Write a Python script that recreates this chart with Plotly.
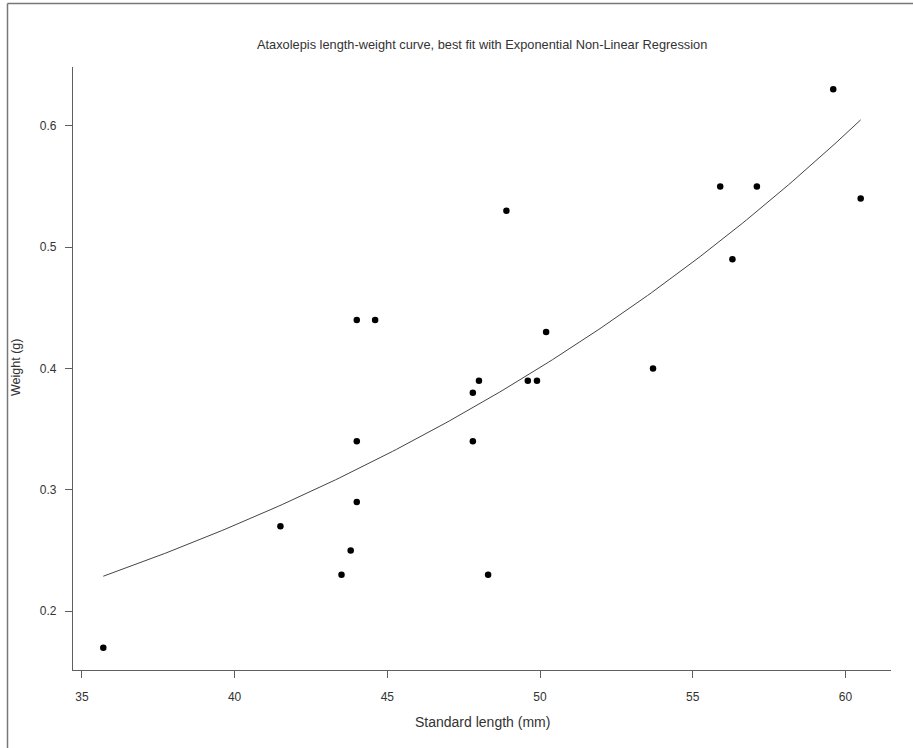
import numpy as np
import plotly.graph_objects as go

# Ataxolepis specimens: standard length (mm) and weight (g)
standard_length = [35.7, 41.5, 43.5, 43.8, 44.0, 44.0, 44.0, 44.6, 47.8, 47.8, 48.0,
                   48.3, 48.9, 49.6, 49.9, 50.2, 53.7, 55.9, 56.3, 57.1, 59.6, 60.5]
weight = [0.17, 0.27, 0.23, 0.25, 0.29, 0.34, 0.44, 0.44, 0.34, 0.38, 0.39,
          0.23, 0.53, 0.39, 0.39, 0.43, 0.40, 0.55, 0.49, 0.55, 0.63, 0.54]

x_ticks = [35, 40, 45, 50, 55, 60]
y_ticks = [0.2, 0.3, 0.4, 0.5, 0.6]
y_tick_text = ["0.2", "0.3", "0.4", "0.5", "0.6"]

title = "Ataxolepis length-weight curve, best fit with Exponential Non-Linear Regression"
x_title = "Standard length (mm)"
y_title = "Weight (g)"

x = np.array(standard_length, dtype=float)
y = np.array(weight, dtype=float)

# Non-linear least squares fit of y = a * exp(b * x) (Gauss-Newton),
# started from the log-linear estimate
b, log_a = np.polyfit(x, np.log(y), 1)
a = np.exp(log_a)
for _ in range(100):
    e = np.exp(b * x)
    r = y - a * e
    J = np.column_stack([e, a * x * e])
    step, *_ = np.linalg.lstsq(J, r, rcond=None)
    a += step[0]
    b += step[1]
    if np.max(np.abs(step)) < 1e-12:
        break

x_fit = np.linspace(x.min(), x.max(), 200)
y_fit = a * np.exp(b * x_fit)

# axis ranges padded by 4% like base-graphics defaults
def padded(v):
    lo, hi = float(np.min(v)), float(np.max(v))
    d = (hi - lo) * 0.04
    return [lo - d, hi + d]

FONT = "Liberation Sans, Arial, sans-serif"
TEXT = "#333333"
AXIS = "#5e5e5e"

fig = go.Figure()
fig.add_trace(go.Scatter(
    x=x_fit, y=y_fit, mode="lines",
    line=dict(color="#444444", width=1),
    hoverinfo="skip", showlegend=False,
))
fig.add_trace(go.Scatter(
    x=standard_length, y=weight, mode="markers",
    marker=dict(color="black", size=6.5, line=dict(width=0)),
    showlegend=False,
))

axis_common = dict(
    showgrid=False, zeroline=False, showline=True, linecolor=AXIS, linewidth=1.3,
    ticks="outside", ticklen=7, tickwidth=1, tickcolor=AXIS, mirror=False,
    tickfont=dict(family=FONT, size=12, color=TEXT),
)

fig.update_layout(
    width=913, height=748,
    margin=dict(l=73, r=22, t=67, b=78),
    paper_bgcolor="white", plot_bgcolor="white",
    xaxis=dict(range=padded(x), tickvals=x_ticks, ticklabelstandoff=8, **axis_common),
    yaxis=dict(range=padded(y), tickvals=y_ticks, ticktext=y_tick_text,
               ticklabelstandoff=6, **axis_common),
    annotations=[
        dict(text=title, xref="paper", yref="paper", x=0.5, y=(670 - 45) / 603,
             xanchor="center", yanchor="middle", showarrow=False,
             font=dict(family=FONT, size=12.8, color=TEXT)),
        dict(text=x_title, xref="paper", yref="paper", x=0.5, y=(670 - 722) / 603,
             xanchor="center", yanchor="middle", showarrow=False,
             font=dict(family=FONT, size=14, color=TEXT)),
        dict(text=y_title, xref="paper", yref="paper", x=(16 - 73) / 818, y=(670 - 368) / 603,
             xanchor="center", yanchor="middle", textangle=-90, showarrow=False,
             font=dict(family=FONT, size=12.5, color=TEXT)),
    ],
    shapes=[
        # outer frame edges
        dict(type="line", xref="paper", yref="paper",
             x0=(7.5 - 73) / 818, x1=(7.5 - 73) / 818,
             y0=(670 - 3.5) / 603, y1=(670 - 760) / 603,
             line=dict(color="#777777", width=1.5)),
        dict(type="line", xref="paper", yref="paper",
             x0=(7.5 - 73) / 818, x1=(930 - 73) / 818,
             y0=(670 - 3.5) / 603, y1=(670 - 3.5) / 603,
             line=dict(color="#777777", width=1.5)),
    ],
)

fig.write_html("out.html")
